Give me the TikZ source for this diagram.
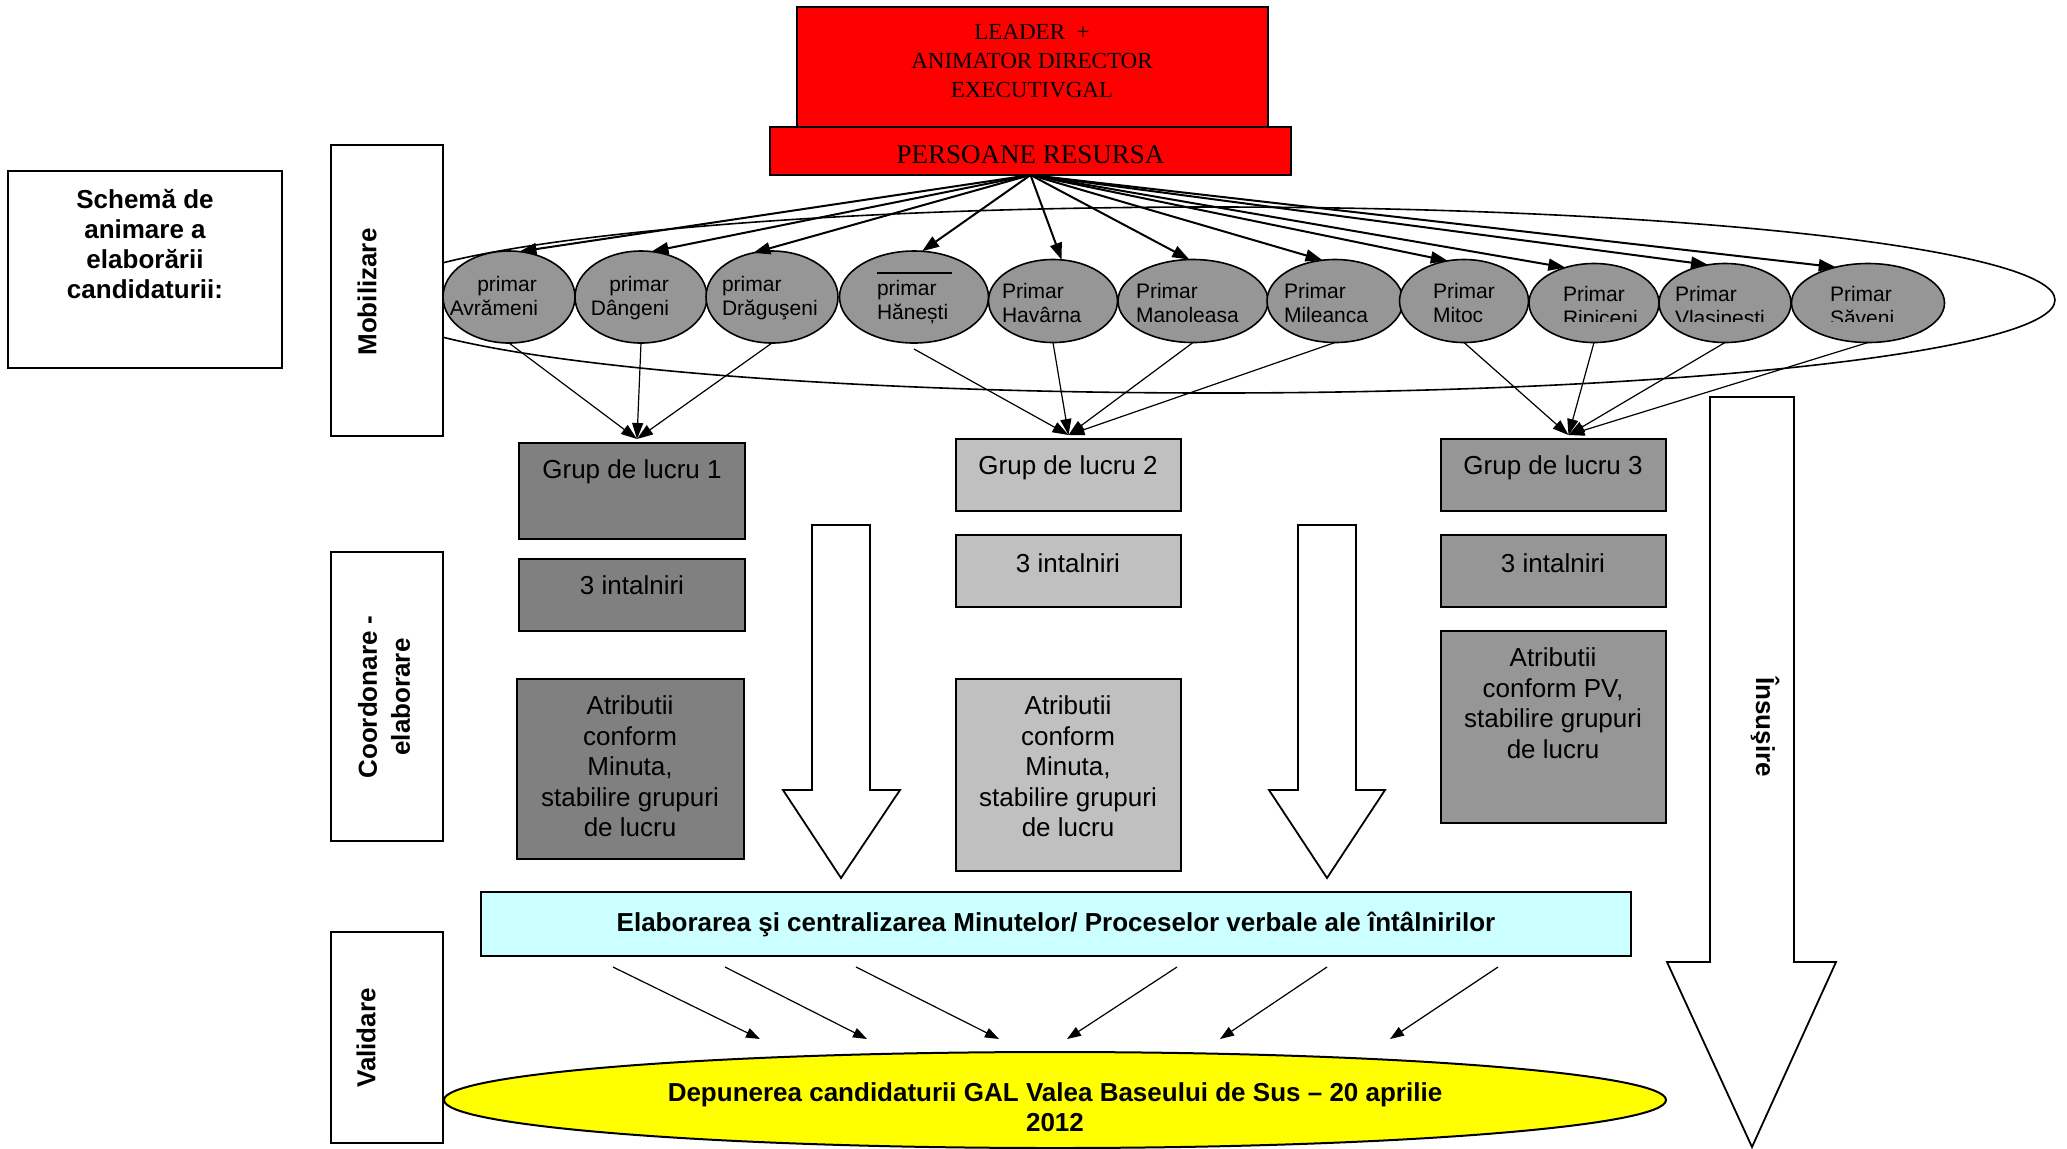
\documentclass[tikz,border=0pt]{standalone}
\usepackage{fontspec}
\setmainfont{Liberation Sans}
\newfontfamily\leadfont{Liberation Serif}
\usetikzlibrary{shapes.geometric,arrows.meta}
\definecolor{dgray}{RGB}{128,128,128}
\definecolor{mgray}{RGB}{150,150,150}
\definecolor{lgray}{RGB}{192,192,192}
\definecolor{cyanbox}{RGB}{204,255,255}
\definecolor{yell}{RGB}{255,255,0}
\begin{document}
\begin{tikzpicture}[x=0.5pt,y=-0.5pt,
  every node/.style={inner sep=0pt, outer sep=0pt},
  rbox/.style={draw=black, line width=0.9pt, rectangle, anchor=north west},
  oval/.style={draw=black, line width=0.8pt, ellipse, fill=mgray},
  lbl/.style={font=\fontsize{13}{15}\selectfont\bfseries},
  gtxt/.style={font=\fontsize{13}{15.25}\selectfont, align=center},
  ptxt/.style={font=\fontsize{10.5}{12}\selectfont, align=left, anchor=north west},
  ptxtc/.style={font=\fontsize{10.5}{12}\selectfont, align=center, anchor=north},
  topar/.style={line width=1pt, -{Triangle[length=8.5pt,width=6pt]}},
  grar/.style={line width=0.6pt, -{Triangle[length=8pt,width=5.5pt]}},
  botar/.style={line width=0.6pt, -{Triangle[length=7pt,width=5pt]}},
  hollow/.style={draw=black, line width=0.9pt, fill=white, line join=miter}
]
\useasboundingbox (0,0) rectangle (2067,1148);

% big grouping ellipse
\node[draw, line width=0.8pt, ellipse, minimum width=841pt, minimum height=93pt] (grp) at (1214,300) {};

% left title and phase boxes
\node[rbox, fill=white, minimum width=137pt, minimum height=98.5pt] (title) at (8,171) {};
\node[lbl, align=center] (titlet) at (145,244) {Schemă de\\animare a\\elaborării\\candidaturii:};
\node[rbox, fill=white, minimum width=56pt, minimum height=145.5pt] (mob) at (331,145) {};
\node[lbl, rotate=90] (mobt) at (367,292) {Mobilizare};
\node[rbox, fill=white, minimum width=56pt, minimum height=144.5pt] (coord) at (331,552) {};
\node[lbl, rotate=90, align=center, font=\fontsize{13}{16.5}\selectfont\bfseries] (coordt) at (384,697) {Coordonare -\\elaborare};
\node[rbox, fill=white, minimum width=56pt, minimum height=105.5pt] (valid) at (331,932) {};
\node[lbl, rotate=90] (validt) at (366,1038) {Validare};

% top red boxes
\node[rbox, fill=red, minimum width=235.5pt, minimum height=60pt] (lead) at (797,7) {};
\node[font=\leadfont\fontsize{11.5}{14.5}\selectfont, align=center, anchor=north] (leadt) at (1032,24) {LEADER\ \ +\\ANIMATOR DIRECTOR\\EXECUTIVGAL};
\node[rbox, fill=red, minimum width=260.5pt, minimum height=24pt] (pr) at (770,127) {};
\node[font=\leadfont\fontsize{13.5}{16}\selectfont] (prt) at (1030.5,155) {PERSOANE RESURSA};

% primar ellipses
\node[oval, minimum width=66pt, minimum height=46pt] (e1) at (509,297) {};
\node[oval, minimum width=66pt, minimum height=46pt] (e2) at (641,297) {};
\node[oval, minimum width=66pt, minimum height=46pt] (e3) at (772,297) {};
\node[oval, minimum width=74.5pt, minimum height=46pt] (e4) at (914,297) {};
\node[oval, minimum width=64.5pt, minimum height=41.5pt] (e5) at (1053,301) {};
\node[oval, minimum width=75pt, minimum height=41.5pt] (e6) at (1193,301) {};
\node[oval, minimum width=68pt, minimum height=41.5pt] (e7) at (1335,301) {};
\node[oval, minimum width=64.5pt, minimum height=41.5pt] (e8) at (1464,301) {};
\node[oval, minimum width=65pt, minimum height=39.5pt] (e9) at (1594,303) {};
\node[oval, minimum width=66pt, minimum height=39.5pt] (e10) at (1725,303) {};
\node[oval, minimum width=76.5pt, minimum height=39.5pt] (e11) at (1868,303) {};

\node[ptxtc] (e1t) at (494,276) {\hspace*{13pt}primar\\Avrămeni};
\node[ptxtc] (e2t) at (630,276) {\hspace*{9pt}primar\\Dângeni};
\node[ptxt] (e3t) at (722,276) {primar\\Drăguşeni};
\node[ptxt] (e4t) at (877,280) {primar\\Hănești};
\draw[line width=1.3pt] ([xshift=-18.5pt,yshift=12pt]e4.center) -- ([xshift=19pt,yshift=12pt]e4.center);
\node[ptxt] (e5t) at (1002,283.5) {Primar\\Havârna};
\node[ptxt] (e6t) at (1136,283.5) {Primar\\Manoleasa};
\node[ptxt] (e7t) at (1284,283.5) {Primar\\Mileanca};
\node[ptxt] (e8t) at (1433,283.5) {Primar\\Mitoc};
\begin{scope}
\clip (1520,250) rectangle (1960,321);
\node[ptxt] (e9t) at (1563,286) {Primar\\Ripiceni};
\node[ptxt] (e10t) at (1675,286) {Primar\\Vlasinesti};
\node[ptxt] (e11t) at (1830,286) {Primar\\Săveni};
\end{scope}

% arrows from resource persons
\foreach \n/\a in {e1/77,e2/77,e3/113,e4/80,e5/78,e6/95,e7/107,e8/112,e9/129,e10/114,e11/132}
  \draw[topar] (pr.south) -- (\n.\a);

% work group columns
\node[rbox, fill=dgray, minimum width=113pt, minimum height=48pt] (g1) at (519,443) {};
\node[gtxt, anchor=base] (g1t) at (632,478) {Grup de lucru 1};
\node[rbox, fill=dgray, minimum width=113pt, minimum height=36pt] (i1) at (519,559) {};
\node[gtxt, anchor=base] (i1t) at (632,594) {3 intalniri};
\node[rbox, fill=dgray, minimum width=113.5pt, minimum height=90pt] (a1) at (517,679) {};
\node[gtxt, anchor=north] (a1t) at (630,696) {Atributii\\conform\\Minuta,\\stabilire grupuri\\de lucru};

\node[rbox, fill=lgray, minimum width=112.5pt, minimum height=36pt] (g2) at (956,439) {};
\node[gtxt, anchor=base] (g2t) at (1068,474) {Grup de lucru 2};
\node[rbox, fill=lgray, minimum width=112.5pt, minimum height=36pt] (i2) at (956,535) {};
\node[gtxt, anchor=base] (i2t) at (1068,572) {3 intalniri};
\node[rbox, fill=lgray, minimum width=112.5pt, minimum height=96pt] (a2) at (956,679) {};
\node[gtxt, anchor=north] (a2t) at (1068,696) {Atributii\\conform\\Minuta,\\stabilire grupuri\\de lucru};

\node[rbox, fill=mgray, minimum width=112.5pt, minimum height=36pt] (g3) at (1441,439) {};
\node[gtxt, anchor=base] (g3t) at (1553,474) {Grup de lucru 3};
\node[rbox, fill=mgray, minimum width=112.5pt, minimum height=36pt] (i3) at (1441,535) {};
\node[gtxt, anchor=base] (i3t) at (1553,572) {3 intalniri};
\node[rbox, fill=mgray, minimum width=112.5pt, minimum height=96pt] (a3) at (1441,631) {};
\node[gtxt, anchor=north] (a3t) at (1553,648) {Atributii\\conform PV,\\stabilire grupuri\\de lucru};

% arrows from mayors to groups
\foreach \n in {e1,e2,e3} \draw[grar] (\n.south) -- ([xshift=2.5pt,yshift=2pt]g1.north);
\draw[grar] ([yshift=-3pt]e4.south) -- ([yshift=2pt]g2.north);
\foreach \n in {e5,e6,e7} \draw[grar] (\n.south) -- ([yshift=2pt]g2.north);
\foreach \n in {e8,e9,e10,e11} \draw[grar] (\n.south) -- ([xshift=7.5pt,yshift=2pt]g3.north);

% hollow block arrows
\draw[hollow] (812,525) -- (870,525) -- (870,790) -- (900,790) -- (841,878) -- (783,790) -- (812,790) -- cycle;
\draw[hollow] (1298,525) -- (1356,525) -- (1356,790) -- (1385,790) -- (1327,878) -- (1269,790) -- (1298,790) -- cycle;
\draw[hollow] (1710,397) -- (1794,397) -- (1794,962) -- (1836,962) -- (1752,1147) -- (1667,962) -- (1710,962) -- cycle;
\node[lbl, rotate=-90] (ins) at (1765,727) {Însuşire};

% validation
\node[rbox, fill=cyanbox, minimum width=575pt, minimum height=32pt, lbl] (elab) at (481,892) {Elaborarea şi centralizarea Minutelor/ Proceselor verbale ale întâlnirilor};
\node[draw, line width=1pt, ellipse, fill=yell, minimum width=611pt, minimum height=48pt] (dep) at (1055,1100) {};
\node[lbl, align=center] (dept) at (1055,1107) {Depunerea candidaturii GAL Valea Baseului de Sus – 20 aprilie\\2012};

\coordinate (s1) at (613,967); \coordinate (t1) at (760,1039);
\coordinate (s2) at (725,967); \coordinate (t2) at (867,1039);
\coordinate (s3) at (856,967); \coordinate (t3) at (999,1039);
\coordinate (s4) at (1177,967); \coordinate (t4) at (1067,1039);
\coordinate (s5) at (1327,967); \coordinate (t5) at (1220,1039);
\coordinate (s6) at (1498,967); \coordinate (t6) at (1390,1039);
\foreach \i in {1,...,6} \draw[botar] (s\i) -- (t\i);
\end{tikzpicture}
\end{document}
